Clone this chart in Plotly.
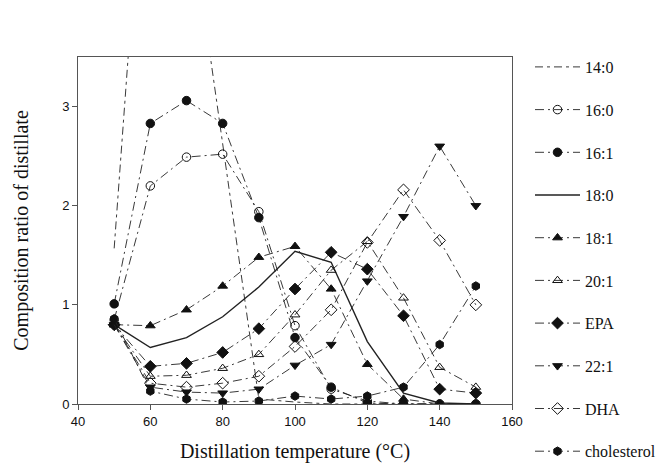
import plotly.graph_objects as go

temps = [50, 60, 70, 80, 90, 100, 110, 120, 130, 140, 150]

s_14_0 = [1.57, 6.56, 5.2, 2.6, 0.05, 0.02, 0.0, 0.0, 0.0, 0.0, 0.0]
s_16_0 = [0.85, 2.2, 2.49, 2.52, 1.94, 0.79, 0.15, 0.03, 0.0, 0.0, 0.0]
s_16_1 = [1.01, 2.83, 3.06, 2.83, 1.88, 0.67, 0.17, 0.01, 0.0, 0.0, 0.0]
s_18_0 = [0.8, 0.57, 0.67, 0.88, 1.18, 1.54, 1.43, 0.63, 0.11, 0.01, 0.0]
s_18_1 = [0.8, 0.79, 0.95, 1.19, 1.48, 1.59, 1.16, 0.40, 0.05, 0.0, 0.0]
s_20_1 = [0.8, 0.28, 0.29, 0.36, 0.50, 0.90, 1.35, 1.64, 1.07, 0.37, 0.17]
s_epa = [0.8, 0.38, 0.41, 0.52, 0.76, 1.16, 1.53, 1.36, 0.89, 0.15, 0.11]
s_22_1 = [0.8, 0.17, 0.12, 0.11, 0.15, 0.39, 0.60, 1.24, 1.89, 2.60, 2.0]
s_dha = [0.8, 0.21, 0.17, 0.21, 0.28, 0.58, 0.95, 1.63, 2.16, 1.65, 1.0]
s_chol = [0.86, 0.13, 0.05, 0.02, 0.03, 0.08, 0.05, 0.08, 0.17, 0.60, 1.19]

names = ["14:0", "16:0", "16:1", "18:0", "18:1", "20:1", "EPA", "22:1", "DHA", "cholesterol"]
series = [s_14_0, s_16_0, s_16_1, s_18_0, s_18_1, s_20_1, s_epa, s_22_1, s_dha, s_chol]
symbols = [None, "circle-open", "circle", None, "triangle-up", "triangle-up-open",
           "diamond", "triangle-down", "diamond-open", "hexagon"]
dashes = ["8px,4px,3px,4px", "9px,4px,2px,4px", "9px,4px,2px,4px", "solid",
          "9px,4px,2px,4px", "9px,4px,2px,4px", "9px,4px,2px,4px", "9px,4px,2px,4px",
          "9px,4px,2px,4px", "9px,4px,2px,4px"]

# plot area in pixels (fixed margins)
L, R, T, B = 78, 154, 57, 66
W, H = 666, 470
pw, ph = W - L - R, H - T - B

fig = go.Figure()
legends = {}
for i, (nm, ys, sym, ds) in enumerate(zip(names, series, symbols, dashes)):
    mode = "lines+markers" if sym else "lines"
    kw = {}
    if sym:
        kw["marker"] = dict(symbol=sym, size=9 if "diamond" in sym else 8.5,
                            color="#111111", line=dict(color="#111111", width=1))
    lg = "legend" if i == 0 else f"legend{i + 1}"
    fig.add_trace(go.Scatter(
        x=temps, y=ys, name=nm, mode=mode, legend=lg,
        line=dict(color="#222222", width=1.4 if ds == "solid" else 0.9, dash=ds),
        cliponaxis=True, **kw))
    cy = 67 + 42.7 * i  # legend entry centre in pixels
    legends[lg] = dict(x=(530 - L) / pw, xanchor="left",
                       y=(H - B - cy) / ph, yanchor="middle",
                       font=dict(family="Liberation Serif", size=16, color="#111111"),
                       itemwidth=45, bgcolor="rgba(0,0,0,0)", borderwidth=0)

fig.update_layout(
    width=W, height=H,
    margin=dict(l=L, r=R, t=T, b=B, autoexpand=False),
    paper_bgcolor="white", plot_bgcolor="white",
    showlegend=True,
    **legends,
    xaxis=dict(range=[40, 160], tickvals=[40, 60, 80, 100, 120, 140, 160],
               showgrid=False, zeroline=False, showline=True, mirror=True,
               linecolor="#555555", linewidth=1, ticks="outside", ticklen=5,
               tickcolor="#555555",
               tickfont=dict(family="Liberation Sans", size=13, color="#111111"),
               title=dict(text="Distillation temperature (°C)",
                          font=dict(family="Liberation Serif", size=20, color="#111111"),
                          standoff=16)),
    yaxis=dict(range=[0, 3.5], tickvals=[0, 1, 2, 3],
               showgrid=False, zeroline=False, showline=True, mirror=True,
               linecolor="#555555", linewidth=1, ticks="outside", ticklen=5,
               tickcolor="#555555",
               tickfont=dict(family="Liberation Sans", size=13, color="#111111"),
               title=dict(text="Composition ratio of distillate",
                          font=dict(family="Liberation Serif", size=20, color="#111111"),
                          standoff=28)),
)

fig.write_html("out.html", config={"displayModeBar": False})
